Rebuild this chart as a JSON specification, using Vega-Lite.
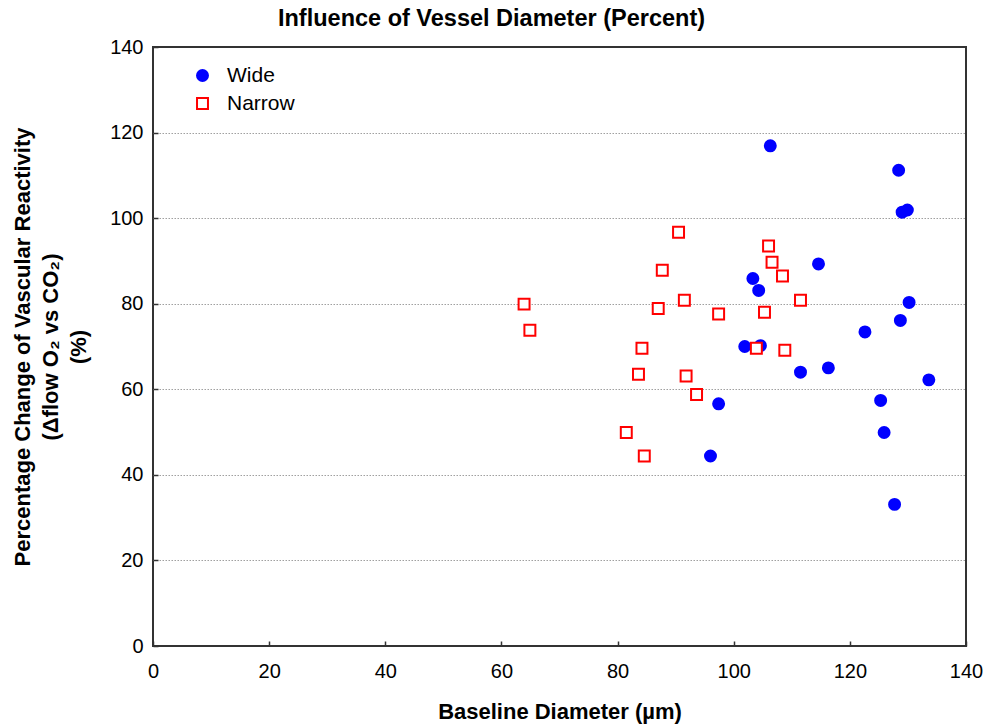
{
  "$schema": "https://vega.github.io/schema/vega-lite/v6.json",
  "width": 813,
  "height": 599,
  "autosize": {"type": "none"},
  "padding": {"left": 153, "top": 47, "right": 21, "bottom": 80},
  "background": "white",
  "title": {
    "text": "Influence of Vessel Diameter (Percent)",
    "font": "Liberation Sans",
    "fontSize": 23.5,
    "fontWeight": "bold",
    "color": "#000",
    "anchor": "middle",
    "frame": "group",
    "baseline": "top",
    "dx": -68,
    "offset": 7
  },
  "data": {
    "values": [
      {"group": "Wide", "diameter": 106.3, "change": 116.9},
      {"group": "Wide", "diameter": 128.4, "change": 111.2},
      {"group": "Wide", "diameter": 129.0, "change": 101.4},
      {"group": "Wide", "diameter": 129.9, "change": 101.9},
      {"group": "Wide", "diameter": 114.6, "change": 89.3},
      {"group": "Wide", "diameter": 103.3, "change": 85.9},
      {"group": "Wide", "diameter": 104.3, "change": 83.1},
      {"group": "Wide", "diameter": 130.2, "change": 80.3},
      {"group": "Wide", "diameter": 128.7, "change": 76.1},
      {"group": "Wide", "diameter": 122.6, "change": 73.4},
      {"group": "Wide", "diameter": 101.9, "change": 70.0},
      {"group": "Wide", "diameter": 104.6, "change": 70.2},
      {"group": "Wide", "diameter": 111.5, "change": 64.0},
      {"group": "Wide", "diameter": 116.3, "change": 65.0},
      {"group": "Wide", "diameter": 133.6, "change": 62.2},
      {"group": "Wide", "diameter": 125.3, "change": 57.4},
      {"group": "Wide", "diameter": 125.9, "change": 49.9},
      {"group": "Wide", "diameter": 127.7, "change": 33.1},
      {"group": "Wide", "diameter": 97.4, "change": 56.6},
      {"group": "Wide", "diameter": 96.0, "change": 44.4},
      {"group": "Narrow", "diameter": 90.5, "change": 96.7},
      {"group": "Narrow", "diameter": 87.7, "change": 87.8},
      {"group": "Narrow", "diameter": 63.9, "change": 79.9},
      {"group": "Narrow", "diameter": 91.5, "change": 80.8},
      {"group": "Narrow", "diameter": 87.0, "change": 78.9},
      {"group": "Narrow", "diameter": 97.4, "change": 77.6},
      {"group": "Narrow", "diameter": 64.9, "change": 73.8},
      {"group": "Narrow", "diameter": 84.2, "change": 69.6},
      {"group": "Narrow", "diameter": 83.6, "change": 63.5},
      {"group": "Narrow", "diameter": 91.8, "change": 63.1},
      {"group": "Narrow", "diameter": 93.6, "change": 58.8},
      {"group": "Narrow", "diameter": 81.5, "change": 49.9},
      {"group": "Narrow", "diameter": 84.6, "change": 44.4},
      {"group": "Narrow", "diameter": 106.0, "change": 93.5},
      {"group": "Narrow", "diameter": 106.6, "change": 89.7},
      {"group": "Narrow", "diameter": 108.4, "change": 86.5},
      {"group": "Narrow", "diameter": 111.5, "change": 80.8},
      {"group": "Narrow", "diameter": 105.3, "change": 78.0},
      {"group": "Narrow", "diameter": 103.9, "change": 69.6},
      {"group": "Narrow", "diameter": 108.8, "change": 69.1}
    ]
  },
  "mark": {"type": "point", "strokeWidth": 2, "size": 120, "opacity": 1},
  "encoding": {
    "x": {
      "field": "diameter",
      "type": "quantitative",
      "scale": {"domain": [0, 140], "nice": false, "zero": false},
      "axis": {
        "title": "Baseline Diameter (µm)",
        "values": [0, 20, 40, 60, 80, 100, 120, 140],
        "grid": false,
        "labelFlush": false,
        "titleX": 406.5,
        "titleY": 72,
        "titleBaseline": "alphabetic",
        "labelPadding": 20
      }
    },
    "y": {
      "field": "change",
      "type": "quantitative",
      "scale": {"domain": [0, 140], "nice": false, "zero": false},
      "axis": {
        "title": ["Percentage Change of Vascular Reactivity", "(Δflow O₂ vs CO₂)", "(%)"],
        "values": [0, 20, 40, 60, 80, 100, 120, 140],
        "grid": true,
        "labelFlush": false,
        "gridOpacity": {"condition": {"test": "datum.value == 0 || datum.value == 140", "value": 0}, "value": 1},
        "titleX": -124,
        "titleY": 299.5,
        "titleAngle": -90,
        "titleAlign": "center",
        "titleBaseline": "alphabetic",
        "titleLineHeight": 28,
        "labelPadding": 15
      }
    },
    "shape": {
      "field": "group",
      "type": "nominal",
      "scale": {"domain": ["Wide", "Narrow"], "range": ["circle", "square"]},
      "legend": {"title": null}
    },
    "stroke": {
      "field": "group",
      "type": "nominal",
      "scale": {"domain": ["Wide", "Narrow"], "range": ["#0000ff", "#ff0000"]},
      "legend": {"title": null}
    },
    "fill": {
      "field": "group",
      "type": "nominal",
      "scale": {"domain": ["Wide", "Narrow"], "range": ["#0000ff", "#ffffff"]},
      "legend": {"title": null}
    }
  },
  "config": {
    "font": "Liberation Sans",
    "view": {"stroke": "#333333", "strokeWidth": 2},
    "axis": {
      "domain": false,
      "ticks": true,
      "tickSize": -5,
      "tickColor": "#333333",
      "tickWidth": 1.5,
      "labelFont": "Liberation Sans",
      "labelFontSize": 20,
      "labelColor": "#000",
      "titleFont": "Liberation Sans",
      "titleFontSize": 22,
      "titleFontWeight": "bold",
      "titleColor": "#000",
      "gridColor": "#a0a0a0",
      "gridDash": [1.5, 1.5],
      "gridWidth": 1.2
    },
    "legend": {
      "orient": "none",
      "legendX": 39,
      "legendY": 18,
      "padding": 0,
      "labelFont": "Liberation Sans",
      "labelFontSize": 21,
      "labelColor": "#000",
      "labelOffset": 14,
      "rowPadding": 6,
      "symbolSize": 120,
      "symbolStrokeWidth": 2
    }
  }
}
